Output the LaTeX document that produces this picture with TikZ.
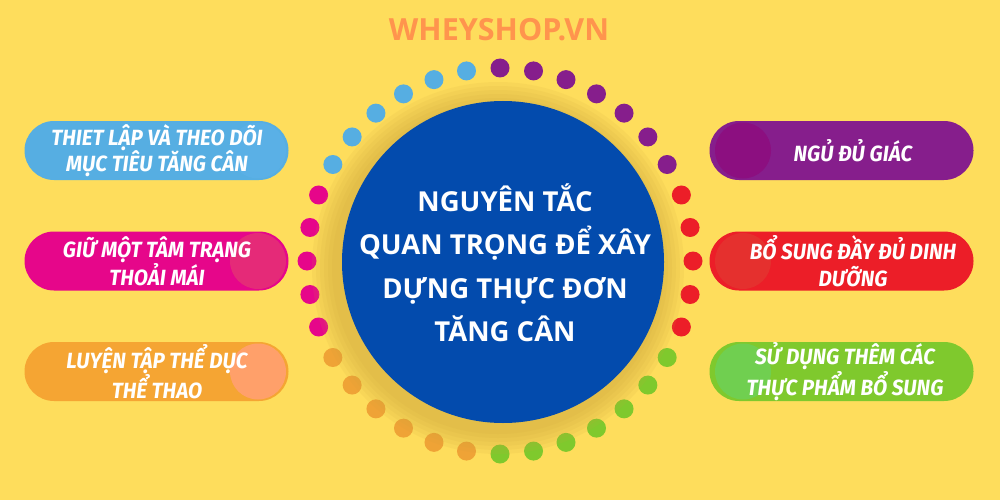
\documentclass[tikz,border=0pt]{standalone}
\usepackage{fontspec}
\setmainfont{Open Sans}
\newfontfamily\pillfont[FakeStretch=0.94]{Fira Sans}
\newfontfamily\headfont{Open Sans}
\definecolor{bgy}{HTML}{FEDD5C}
\definecolor{ttl}{HTML}{FF944D}
\definecolor{cblue}{HTML}{034BAD}
\definecolor{pblue}{HTML}{56AEE2}
\definecolor{pblueL}{HTML}{5AB0E6}
\definecolor{pmag}{HTML}{E6068A}
\definecolor{pmagL}{HTML}{E52A78}
\definecolor{porg}{HTML}{F5A533}
\definecolor{porgL}{HTML}{FFA06A}
\definecolor{ppur}{HTML}{861E8C}
\definecolor{ppurL}{HTML}{8C0F80}
\definecolor{pred}{HTML}{EC1E28}
\definecolor{predL}{HTML}{E5302E}
\definecolor{pgrn}{HTML}{7FC92D}
\definecolor{pgrnL}{HTML}{70CF50}
\definecolor{dorg}{HTML}{EFA336}
\definecolor{shad}{HTML}{C9A23A}
\begin{document}
\begin{tikzpicture}[x=1pt,y=-1pt,
  pill/.style={rounded corners=29.5pt,minimum width=264pt,minimum height=59pt,inner sep=0pt},
  ptext/.style={text=white,align=center,font=\pillfont\bfseries\itshape\fontsize{22}{26.5}\selectfont},
  dot/.style={circle,minimum size=19pt,inner sep=0pt}]
\fill[bgy] (0,0) rectangle (1000,500);
\useasboundingbox (0,0) rectangle (1000,500);
% title
\node[font=\headfont\bfseries\fontsize{30.5}{34}\selectfont,text=ttl] (title) at (499,30) {WHEYSHOP.VN};
% dots
\foreach \a/\c [count=\i] in {90/ppur,80/ppur,70/ppur,60/ppur,50/ppur,40/ppur,30/ppur,
  20/pred,10/pred,0/pred,-10/pred,-20/pred,
  -30/pgrn,-40/pgrn,-50/pgrn,-60/pgrn,-70/pgrn,-80/pgrn,-90/pgrn,
  -100/dorg,-110/dorg,-120/dorg,-130/dorg,-140/dorg,-150/dorg,
  -160/pmag,-170/pmag,-180/pmag,-190/pmag,-200/pmag,
  -210/pblue,-220/pblue,-230/pblue,-240/pblue,-250/pblue,-260/pblue}
  \node[dot,fill=\c] (d\i) at ({500+193*cos(\a)},{261-193*sin(\a)}) {};
% shadow
\foreach \r in {186,182,178,174,170,166}
  \fill[shad,opacity=0.10] (498,268) circle (\r);
% main circle
\node[circle,fill=cblue,minimum size=322pt,inner sep=0pt] (main) at (503,262) {};
\node[text=white,align=center,font=\headfont\bfseries\fontsize{27.5}{43.5}\selectfont] (mtext) at (505,263)
  {NGUYÊN TẮC\\QUAN TRỌNG ĐỂ XÂY\\DỰNG THỰC ĐƠN\\TĂNG CÂN};
% left pills
\node[pill,fill=pblue] (l1) at (156.5,150.5) {};
\fill[pblueL] (258,150.5) circle (28);
\node[ptext] (l1t) at (157,150.5) {THIET LẬP VÀ THEO DÕI\\MỤC TIÊU TĂNG CÂN};
\node[pill,fill=pmag] (l2) at (156.5,261) {};
\fill[pmagL] (258,261) circle (28);
\node[ptext] (l2t) at (157,261) {GIỮ MỘT TÂM TRẠNG\\THOẢI MÁI};
\node[pill,fill=porg] (l3) at (156.5,371.5) {};
\fill[porgL] (258,371.5) circle (28);
\node[ptext] (l3t) at (157,371.5) {LUYỆN TẬP THỂ DỤC\\THỂ THAO};
% right pills
\node[pill,fill=ppur] (r1) at (841.5,150.5) {};
\fill[ppurL] (743,150.5) circle (28);
\node[ptext] (r1t) at (853,150.5) {NGỦ ĐỦ GIÁC};
\node[pill,fill=pred] (r2) at (841.5,261) {};
\fill[predL] (743,261) circle (28);
\node[ptext] (r2t) at (853,261) {BỔ SUNG ĐẦY ĐỦ DINH\\DƯỠNG};
\node[pill,fill=pgrn] (r3) at (841.5,371.5) {};
\fill[pgrnL] (743,371.5) circle (28);
\node[ptext] (r3t) at (845,371.5) {SỬ DỤNG THÊM CÁC\\THỰC PHẨM BỔ SUNG};
\end{tikzpicture}
\end{document}
